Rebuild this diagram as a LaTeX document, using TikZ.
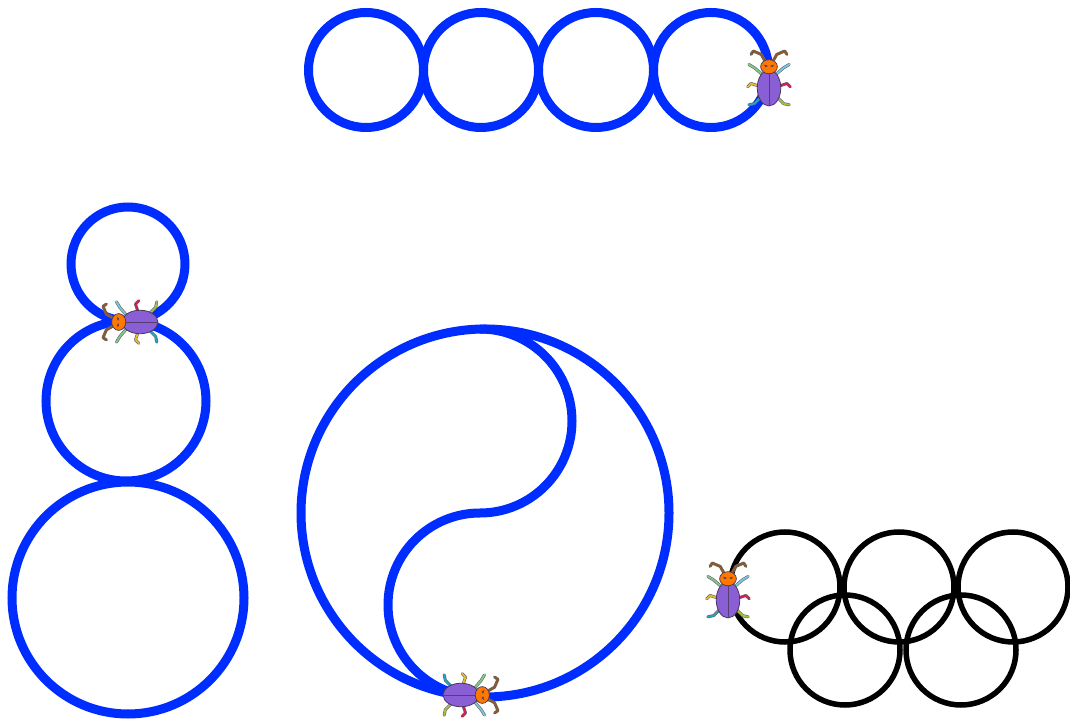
\documentclass[tikz,border=0pt]{standalone}
\usepackage{tikz}
\definecolor{trackblue}{RGB}{0,45,255}
\definecolor{bugbody}{RGB}{138,95,214}
\definecolor{bugline}{RGB}{70,55,90}
\definecolor{bughead}{RGB}{255,120,0}
\definecolor{legA}{RGB}{130,200,140}
\definecolor{legB}{RGB}{120,200,225}
\definecolor{legC}{RGB}{230,185,50}
\definecolor{legD}{RGB}{210,30,80}
\definecolor{legE}{RGB}{40,160,200}
\definecolor{legF}{RGB}{165,195,60}
\definecolor{antenna}{RGB}{140,90,45}
\newcommand\bugleg[2]{%
  \draw[line width=3pt,draw=black!60,line cap=round,line join=round] #2;
  \draw[line width=1.8pt,draw=#1,line cap=round,line join=round] #2;}
\tikzset{
  track/.style={draw=trackblue,line width=9pt},
  ring/.style={draw=black,line width=5.5pt},
  bug/.pic={
    % antennae
    \bugleg{antenna}{(-3,23) -- (-7,30) -- (-14,33) -- (-16,30)}
    \bugleg{antenna}{(3,23) -- (7,30) -- (14,33) -- (16,30)}
    % legs
    \bugleg{legA}{(-6,12) -- (-13,18) -- (-18,21)}
    \bugleg{legB}{(6,12) -- (13,18) -- (18,21)}
    \bugleg{legC}{(-10,2) -- (-16,4) -- (-19,1)}
    \bugleg{legD}{(10,2) -- (16,4) -- (19,1)}
    \bugleg{legE}{(-8,-9) -- (-13,-14) -- (-18,-15)}
    \bugleg{legF}{(8,-9) -- (13,-14) -- (18,-15)}
    % body with wing seam
    \draw[fill=bugbody,draw=bugline,line width=0.8pt] (0,0) ellipse [x radius=10.5,y radius=16];
    \draw[draw=bugline!80!bugbody,line width=0.7pt] (0,15) -- (0,-15);
    % head with eyes
    \draw[fill=bughead,draw=bugline,line width=0.7pt] (0,19) ellipse [x radius=7.5,y radius=6.3];
    \draw[draw=bugline,line width=0.6pt] (-4.5,20.5) -- (-1.2,19.5) (4.5,20.5) -- (1.2,19.5);
    \fill[bugline] (-2.8,19.4) circle (0.8) (2.8,19.4) circle (0.8);
  }
}
\begin{document}
\begin{tikzpicture}[x=1pt,y=1pt]
\useasboundingbox (0,0) rectangle (1070,720);
% row of four touching loops
\foreach \cx in {366,481,596,711} \draw[track] (\cx,650) circle (57.5);
% stacked loops
\draw[track] (128,456) circle (57);
\draw[track] (126,319) circle (80);
\draw[track] (128,122) circle (116);
% circle with an S through it
\draw[track] (485,207) circle (184);
\draw[track] (480,391) arc[start angle=90,end angle=-90,radius=92]
                       arc[start angle=90,end angle=270,radius=92];
% five interlocking rings
\foreach \cx/\cy in {785/133,899/133,1013/133,845/70,961/70} \draw[ring] (\cx,\cy) circle (55);
% bugs
\pic[scale=1.12] at (769,632) {bug};
\pic[scale=1.12,rotate=90] at (140,398) {bug};
\pic[scale=1.12,rotate=-90] at (461,25) {bug};
\pic[scale=1.12] at (728,120) {bug};
\end{tikzpicture}
\end{document}
